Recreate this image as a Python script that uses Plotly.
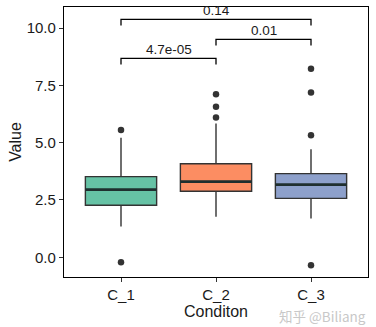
import plotly.graph_objects as go

categories = ["C_1", "C_2", "C_3"]
colors = ["#66C2A5", "#FC8D62", "#8DA0CB"]
q1 = [2.27, 2.88, 2.57]
median = [2.95, 3.30, 3.17]
q3 = [3.52, 4.08, 3.65]
lower_whisker = [1.34, 1.77, 1.69]
upper_whisker = [5.22, 5.84, 4.71]
outliers = [[5.55, -0.22], [7.11, 6.57, 6.10], [8.23, 7.19, 5.32, -0.35]]
# comparisons: (group a index, group b index, bracket y, label)
comp_a = [0, 1, 0]
comp_b = [1, 2, 2]
comp_y = [8.68, 9.51, 10.38]
comp_label = ["4.7e-05", "0.01", "0.14"]
yticks = [0, 2.5, 5, 7.5, 10]
ytick_text = ["0.0", "2.5", "5.0", "7.5", "10.0"]

dark = "#333333"
box_w = 0.75
fig = go.Figure()
for i, c in enumerate(categories):
    fig.add_trace(go.Box(
        x=[i], q1=[q1[i]], median=[median[i]], q3=[q3[i]],
        lowerfence=[lower_whisker[i]], upperfence=[upper_whisker[i]],
        fillcolor=colors[i], line=dict(color=dark, width=1.4),
        width=box_w, whiskerwidth=0, boxpoints=False, showlegend=False,
        hoverinfo="skip",
    ))
    # thicker median line
    fig.add_trace(go.Scatter(
        x=[i - box_w / 2, i + box_w / 2], y=[median[i], median[i]],
        mode="lines", line=dict(color="#1f2f2f", width=2.6),
        showlegend=False, hoverinfo="skip",
    ))
    fig.add_trace(go.Scatter(
        x=[i] * len(outliers[i]), y=outliers[i], mode="markers",
        marker=dict(color=dark, size=6.5), showlegend=False, hoverinfo="skip",
    ))

tick_drop = 0.27
for a, b, yv, lab in zip(comp_a, comp_b, comp_y, comp_label):
    fig.add_trace(go.Scatter(
        x=[a, a, b, b], y=[yv - tick_drop, yv, yv, yv - tick_drop],
        mode="lines", line=dict(color="black", width=1.3),
        showlegend=False, hoverinfo="skip", cliponaxis=False,
    ))
    fig.add_annotation(x=(a + b) / 2, y=yv, text=lab, showarrow=False,
                       yanchor="bottom", yshift=-1,
                       font=dict(family="Liberation Sans, Arial", size=13.5, color="#1a1a1a"))

fig.add_annotation(xref="paper", yref="paper", x=1.0, y=-0.145, xanchor="right",
                   yanchor="middle", text="知乎 @Biliang", showarrow=False,
                   font=dict(family="Noto Sans CJK SC", size=13.5, color="#c8c8c8"))

axis_common = dict(
    showline=True, linecolor="black", linewidth=1.3, mirror=True,
    ticks="outside", ticklen=4, tickwidth=1, tickcolor="#333333",
    showgrid=False, zeroline=False,
    tickfont=dict(family="Liberation Sans, Arial", size=15, color="#1a1a1a"),
)
fig.update_layout(
    width=376, height=327,
    margin=dict(l=64, r=8, t=7, b=50),
    plot_bgcolor="white", paper_bgcolor="white",
    xaxis=dict(range=[-0.6, 2.6], tickvals=[0, 1, 2], ticktext=categories,
               title=dict(text="Conditon", standoff=2,
                          font=dict(family="Liberation Sans, Arial", size=16, color="#1a1a1a")),
               **axis_common),
    yaxis=dict(range=[-0.86, 10.92], tickvals=yticks, ticktext=ytick_text,
               title=dict(text="Value", standoff=1,
                          font=dict(family="Liberation Sans, Arial", size=16, color="#1a1a1a")),
               **axis_common),
)
fig.write_html("out.html")
